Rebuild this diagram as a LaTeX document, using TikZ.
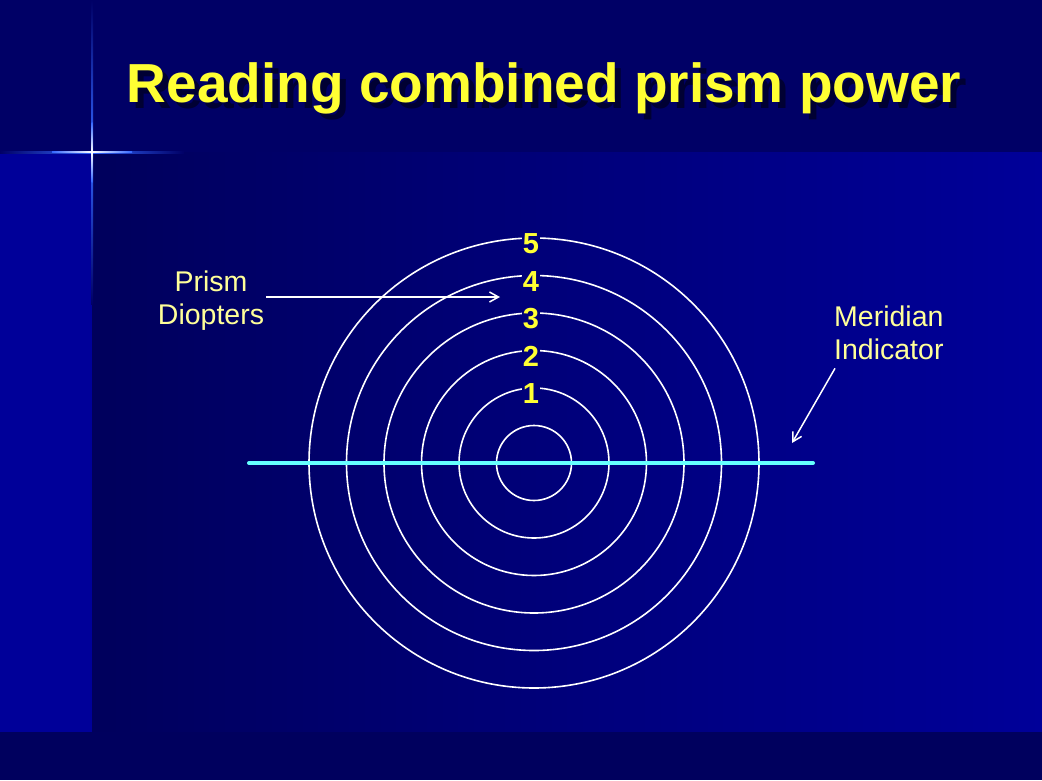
\documentclass[tikz,border=0pt]{standalone}
\usepackage{fontspec}
\setmainfont{Liberation Sans}
\usepackage{xcolor}
\usetikzlibrary{arrows.meta,calc}
\definecolor{slidenavy}{HTML}{000066}
\definecolor{slidefoot}{HTML}{00005E}
\definecolor{slidestrip}{HTML}{000099}
\definecolor{slidedeep}{HTML}{00005C}
\definecolor{slidemid}{HTML}{000079}
\definecolor{slideglow}{HTML}{3366FF}
\definecolor{titleyellow}{HTML}{FFFF33}
\definecolor{titleshadow}{HTML}{000033}
\definecolor{labelcream}{HTML}{FFFF99}
\definecolor{meridiancyan}{HTML}{66FFFF}

\begin{document}
\begin{tikzpicture}[x=1pt,y=-1pt,
  title/.style={font=\fontsize{55}{60}\selectfont\bfseries,anchor=base,inner sep=0pt},
  label/.style={font=\fontsize{28.5}{33}\selectfont,text=labelcream,inner sep=2pt},
  ring/.style={draw=white,line width=1.6pt},
  diopter/.style={font=\fontsize{29}{29}\selectfont\bfseries,text=titleyellow,fill=slidemid,inner sep=0.5pt},
  pointer/.style={draw=white,line width=1.5pt,-{Straight Barb[length=9pt,width=10pt]}}
]
\useasboundingbox (0,0) rectangle (1042,780);
\fill[slidenavy] (0,0) rectangle (1042,152);
\fill[slidestrip] (0,152) rectangle (92,732);
\shade[left color=slidedeep,right color=slidestrip] (92,152) rectangle (1042,732);
\fill[slidefoot] (0,732) rectangle (1042,780);
\shade[top color=slidenavy,bottom color=slidenavy,middle color=slideglow] (91,0) rectangle (93,304);
\shade[left color=slidenavy,right color=slidenavy,middle color=slideglow] (0,151) rectangle (184,153);
\shade[top color=slideglow,bottom color=slideglow,middle color=white] (91.5,122) rectangle (92.5,182);
\shade[left color=slideglow,right color=slideglow,middle color=white] (52,151.5) rectangle (132,152.5);

\node[title,text=titleshadow] (shadow) at (550,108) {Reading combined prism power};
\node[title,text=titleyellow] (title) at (544,102) {Reading combined prism power};

\coordinate (centre) at (534,463);
\foreach \r in {1,...,6}
  \draw[ring] (centre) circle[radius=37.5*\r];

\coordinate (mleft) at (249,463);
\coordinate (mright) at (813,463);
\draw[meridiancyan,line width=4pt,line cap=round] (mleft) -- (mright);

\foreach \n in {1,...,5}
  \node[diopter] (d\n) at ($(centre)+(-3,-37.5*\n-31.5)$) {\n};

\node[label,align=center] (diopters) at (211,301) {Prism\\Diopters};
\coordinate (diopterstip) at (500,297);
\draw[pointer] (diopters.east |- diopterstip) -- (diopterstip);

\node[label,align=left,anchor=north west] (meridian) at (832,304) {Meridian\\Indicator};
\coordinate (meridiantip) at (792,443);
\draw[pointer] ([shift={(3,6)}]meridian.south west) -- (meridiantip);
\end{tikzpicture}
\end{document}
